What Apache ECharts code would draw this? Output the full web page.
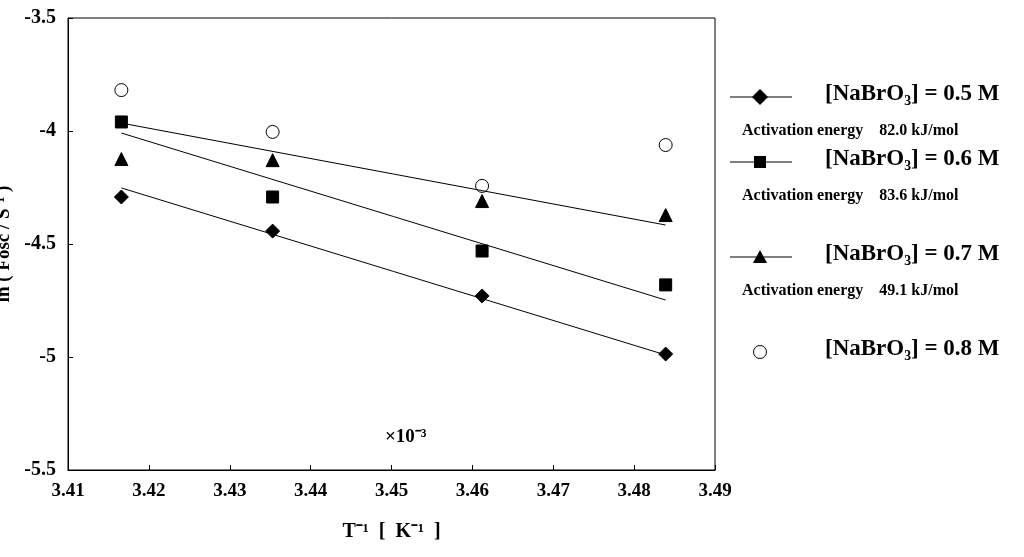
<!DOCTYPE html>
<html><head><meta charset="utf-8">
<script src="https://cdn.jsdelivr.net/npm/echarts@6/dist/echarts.min.js"></script>
<style>html,body{margin:0;background:#fff}#c{width:1024px;height:557px}</style></head>
<body><div id="c"></div>
<script>
const xVals=[3.4166,3.4353,3.4612,3.4839];
const dia=[-4.292,-4.443,-4.730,-4.987];
const sq=[-3.960,-4.292,-4.531,-4.681];
const tri=[-4.124,-4.129,-4.310,-4.372];
const circ=[-3.819,-4.004,-4.243,-4.062];
const fitX=[3.4166,3.4839];
const fitDia=[-4.252,-4.991];
const fitSq=[-4.009,-4.748];
const fitTri=[-3.965,-4.416];
const legendNames=['0.5','0.6','0.7','0.8'];
const energies=['82.0','83.6','49.1'];
const pts=(ys)=>xVals.map((x,i)=>[x,ys[i]]);
const fit=(ys)=>fitX.map((x,i)=>[x,ys[i]]);
const F='Liberation Serif, Times New Roman, serif';
const mk=(sym,data,size,fill)=>({type:'scatter',data,symbol:sym,symbolSize:size,
 itemStyle:{color:fill||'#000',opacity:1,borderColor:'#000',borderWidth:1},silent:true});
const series=[
 {type:'line',data:fit(fitDia),symbol:'none',lineStyle:{color:'#000',width:1}},
 {type:'line',data:fit(fitSq),symbol:'none',lineStyle:{color:'#000',width:1}},
 {type:'line',data:fit(fitTri),symbol:'none',lineStyle:{color:'#000',width:1}},
 mk('diamond',pts(dia),14),
 mk('rect',pts(sq),12),
 mk('triangle',pts(tri),13),
 mk('circle',pts(circ),13,'#fff')
];
const rows=[97,162,257,352];
const graphic=[];
rows.forEach((y,i)=>{
 if(i<3) graphic.push({type:'line',shape:{x1:730,y1:y,x2:792,y2:y},style:{stroke:'#000',lineWidth:1.2}});
 graphic.push({type:'text',left:825,top:y-14,style:{text:'[NaBrO₃] = '+legendNames[i]+' M',font:'bold 23px '+F,fill:'#000'}});
 if(i<3) graphic.push({type:'text',left:742,top:y+26,style:{text:'Activation energy    '+energies[i]+' kJ/mol',font:'bold 16px '+F,fill:'#000'}});
});
const symGraphics=[
 {type:'polygon',shape:{points:[[760,89],[768,97],[760,105],[752,97]]},style:{fill:'#000'}},
 {type:'rect',shape:{x:754,y:156,width:12,height:12},style:{fill:'#000'}},
 {type:'polygon',shape:{points:[[760,250],[767,263],[753,263]]},style:{fill:'#000'}},
 {type:'circle',shape:{cx:760,cy:352,r:6.5},style:{fill:'#fff',stroke:'#000',lineWidth:1}}
];
const chart=echarts.init(document.getElementById('c'));
chart.setOption({
 animation:false,
 grid:{left:68,right:309,top:18,bottom:87,containLabel:false,outerBoundsMode:'none',show:true,borderColor:'#000',borderWidth:1},
 xAxis:{type:'value',min:3.41,max:3.49,interval:0.01,
  axisLine:{lineStyle:{color:'#000'}},axisTick:{inside:true,lineStyle:{color:'#000'}},splitLine:{show:false},
  axisLabel:{color:'#000',fontWeight:'bold',fontSize:19,fontFamily:F,margin:12,formatter:v=>v.toFixed(2)},
  name:'T⁻¹  [  K⁻¹  ]',nameLocation:'middle',nameGap:52,nameTextStyle:{color:'#000',fontWeight:'bold',fontSize:20,fontFamily:F}},
 yAxis:{type:'value',min:-5.5,max:-3.5,interval:0.5,
  axisLine:{lineStyle:{color:'#000'}},axisTick:{inside:true,lineStyle:{color:'#000'}},splitLine:{show:false},
  axisLabel:{color:'#000',fontWeight:'bold',fontSize:20,fontFamily:F,margin:12,formatter:v=>String(v)},
  name:'ln ( Fosc / S⁻¹ )',nameLocation:'middle',nameGap:50,nameRotate:90,
  nameTextStyle:{color:'#000',fontWeight:'bold',fontSize:19,fontFamily:F}},
 graphic:graphic.concat(symGraphics).concat([
  {type:'text',left:385,top:428,style:{text:'×10⁻³',font:'bold 19px '+F,fill:'#000'}}]),
 series
});
</script></body></html>
